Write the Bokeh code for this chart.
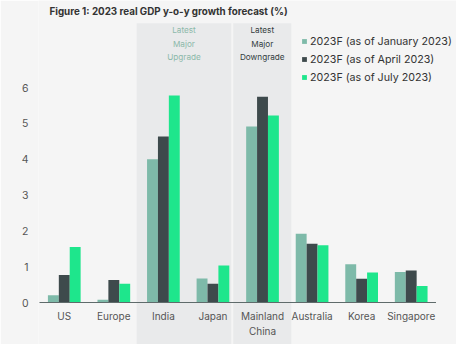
import numpy as np
from bokeh.plotting import figure
from bokeh.models import (Range1d, FixedTicker, Label, Legend, LegendItem,
                          ColumnDataSource)
from bokeh.core.properties import value
from bokeh.embed import file_html
from bokeh.resources import INLINE

# ---- data ----
countries = ["US", "Europe", "India", "Japan", "Mainland\nChina",
             "Australia", "Korea", "Singapore"]
series_names = ["2023F (as of January 2023)", "2023F (as of April 2023)",
                "2023F (as of July 2023)"]
jan_2023 = [0.20, 0.08, 4.00, 0.67, 4.91, 1.92, 1.07, 0.85]
apr_2023 = [0.77, 0.63, 4.63, 0.52, 5.74, 1.64, 0.66, 0.89]
jul_2023 = [1.55, 0.52, 5.78, 1.03, 5.22, 1.60, 0.84, 0.46]
y_ticks = [0, 1, 2, 3, 4, 5, 6]
band_labels = ["Latest\nMajor\nUpgrade", "Latest\nMajor\nDowngrade"]

colors = ["#7ebaa9", "#3e4a4c", "#1ee68c"]
BG = "#f5f5f5"
BAND = "#e9eaeb"
FONT = "Inter"

idx = np.arange(len(countries))
Y_BOTTOM, Y_TOP = -1.172, 8.428
BAND_TOP = 7.79

p = figure(width=456, height=344, output_backend="svg", toolbar_location=None,
           x_range=Range1d(-0.52, 7.914), y_range=Range1d(Y_BOTTOM, Y_TOP),
           x_axis_location=None, min_border_left=38, min_border_right=0,
           min_border_top=0, min_border_bottom=0)
p.background_fill_color = BG
p.border_fill_color = BG
p.outline_line_color = None
p.xgrid.visible = False
p.ygrid.visible = False

# highlight bands
i_india = countries.index("India")
i_japan = countries.index("Japan")
i_china = countries.index("Mainland\nChina")
band_left = [i_india - 0.54, i_china - 0.59]
band_right = [i_japan + 0.37, i_china + 0.58]
p.quad(left=band_left, right=band_right, bottom=Y_BOTTOM, top=BAND_TOP,
       fill_color=BAND, line_color=None)

# band labels
band_x = [(l + r) / 2 for l, r in zip(band_left, band_right)]
p.text(x=band_x, y=[7.74, 7.74], text=band_labels,
       text_color=["#8cb9aa", "#333d3e"], text_font=value(FONT),
       text_font_size="8.2px", text_align="center", text_baseline="top",
       text_line_height=1.35)

# bars
w = 0.22
renderers = []
for k, (vals, c) in enumerate(zip([jan_2023, apr_2023, jul_2023], colors)):
    src = ColumnDataSource(dict(x=idx + (k - 1) * w, top=vals))
    r = p.vbar(x="x", top="top", width=w, bottom=0, source=src,
               fill_color=c, line_color=None)
    renderers.append(r)

# baseline
p.segment(x0=[-0.5], x1=[len(countries) - 0.5], y0=[0], y1=[0],
          line_color="#5f6b6b", line_width=1.2)

# category labels
p.text(x=idx, y=[-0.204] * len(countries), text=countries,
       text_color="#555555", text_font=value(FONT), text_font_size="10px",
       text_align="center", text_baseline="top", text_line_height=1.25)

# y axis
ax = p.yaxis[0]
ax.ticker = FixedTicker(ticks=y_ticks)
ax.axis_line_color = None
ax.major_tick_line_color = None
ax.minor_tick_line_color = None
ax.major_tick_out = 0
ax.major_tick_in = 0
ax.major_label_standoff = 10
ax.major_label_text_font = FONT
ax.major_label_text_font_size = "10.5px"
ax.major_label_text_color = "#555555"

# legend
legend = Legend(items=[LegendItem(label=n, renderers=[r])
                       for n, r in zip(series_names, renderers)],
                location=(263, 260), orientation="vertical")
legend.glyph_width = 6
legend.glyph_height = 6
legend.label_height = 14
legend.label_standoff = 3
legend.spacing = 4
legend.padding = 0
legend.margin = 0
legend.border_line_color = None
legend.background_fill_alpha = 0
legend.label_text_font = FONT
legend.label_text_font_size = "10.7px"
legend.label_text_color = "#333333"
p.add_layout(legend)

# title
title = Label(x=11, y=333, x_units="screen", y_units="screen",
              text="Figure 1: 2023 real GDP y-o-y growth forecast (%)",
              text_font=FONT, text_font_size="9.8px", text_font_style="bold",
              text_color="#333333", text_baseline="middle")
p.add_layout(title)

open("out.html", "w").write(file_html(p, INLINE))
